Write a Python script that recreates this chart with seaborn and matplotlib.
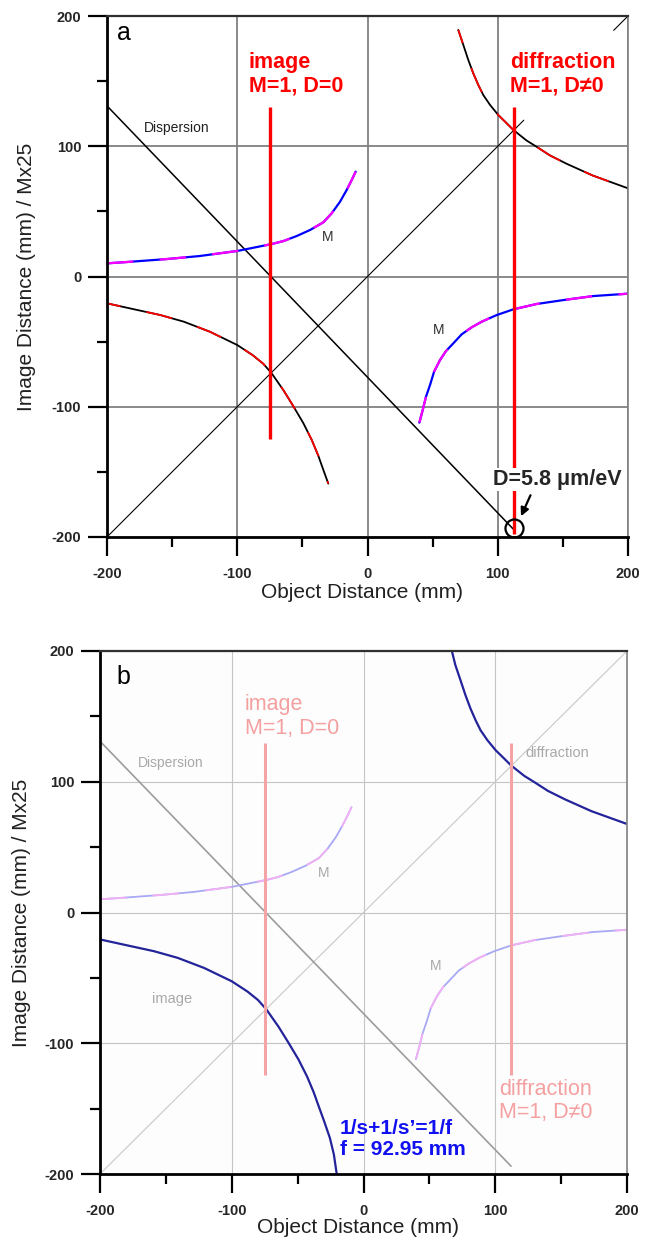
import numpy as np
import pandas as pd
import seaborn as sns
import matplotlib.pyplot as plt
from matplotlib.ticker import MultipleLocator

# values (mm)
m_left_x = [-200, -185, -154, -129, -100, -73.6, -64.6, -54.3, -44.1, -33.9, -27.5, -21.1, -16, -12.1, -9.1]
m_left_y = [10.1, 11.1, 13.4, 15.7, 19.6, 24.9, 27.2, 31.1, 35.7, 41.6, 48.5, 57.4, 66.4, 74.1, 80.5]
m_right_x = [39.8, 42.4, 44.9, 48, 51.1, 55.7, 60.3, 65.9, 72.3, 80, 87.7, 93.5, 99.2, 112, 129.9, 150.4, 173.4, 200]
m_right_y = [-112.2, -102.5, -92.3, -83.3, -73.1, -64.1, -57.2, -51.3, -44.4, -39.0, -34.7, -32.1,
             -29.6, -25.2, -21.1, -18.1, -15.0, -13.2]
img_x = [-200, -180, -159, -141, -121, -100, -88, -80, -73.6, -64.6, -57, -49.3, -42.8, -37.8, -33.9, -30.1]
img_y = [-20.6, -25.0, -29.6, -34.7, -42.4, -52.6, -60.5, -67.0, -74.3, -87.2, -99.5, -112.5,
         -125.5, -137.5, -148.5, -159.0]
img_ext_x = [-25.5, -22.5, -20.4]          # panel b continues the curve to the axis
img_ext_y = [-172.5, -185.0, -199.5]
diff_x = [69.7, 73.6, 77.4, 81.2, 85.1, 88.9, 94.1, 100.4, 106.9, 112, 122, 130, 140, 153, 173, 200]
diff_y = [189.3, 177.7, 166.2, 156.0, 147.0, 139.3, 131.7, 124.0, 117.6, 112.5, 104.5, 99.5,
          93.0, 86.5, 77.5, 67.7]
diff_pre_x = [67.2]
diff_pre_y = [199.5]
disp_x = [-200, 112]
disp_y = [131, -194]
diag_x = [-200, 120]
diag2_x = [189, 200]
diag_full_x = [-200, 200]
image_pos = -74.5
diffr_pos = 112.3
line_top = 130
line_bot_b = -124.5
diffr_bot_a = -198
circle_pt = (112.5, -193)

sns.set_theme(style="white")
plt.rcParams['font.family'] = ['Liberation Sans', 'DejaVu Sans']
plt.rcParams['axes.unicode_minus'] = False
plt.rcParams['lines.scale_dashes'] = False
plt.rcParams['lines.solid_joinstyle'] = 'round'

fig = plt.figure(figsize=(6.49, 12.42), dpi=100)
ax_a = fig.add_axes([107/649, 1-537/1242, 521/649, 521/1242])
ax_b = fig.add_axes([100/649, 1-1174/1242, 527/649, 523/1242])

seg = (0, (19, 19))


def frame(ax, gridcol, gridlw, ylab_x, xlab_y):
    ax.set_xlim(-200, 200)
    ax.set_ylim(-200, 200)
    ax.xaxis.set_major_locator(MultipleLocator(100))
    ax.xaxis.set_minor_locator(MultipleLocator(50))
    ax.yaxis.set_major_locator(MultipleLocator(100))
    ax.yaxis.set_minor_locator(MultipleLocator(50))
    ax.tick_params(which='major', direction='out', length=13.5, width=1.6,
                   color='black', left=True, bottom=True)
    ax.tick_params(which='minor', direction='out', length=7.5, width=1.6,
                   color='black', left=True, bottom=True)
    ax.tick_params(axis='x', which='major', pad=8)
    ax.tick_params(axis='y', which='major', pad=5)
    for lab in ax.get_xticklabels() + ax.get_yticklabels():
        lab.set_fontweight('bold')
        lab.set_fontsize(10.5)
    ax.grid(True, which='major', color=gridcol, lw=gridlw, zorder=0)
    ax.set_axisbelow(True)
    ax.spines['left'].set_color('black')
    ax.spines['left'].set_linewidth(2)
    ax.spines['bottom'].set_color('black')
    ax.spines['bottom'].set_linewidth(2)
    ax.spines['top'].set_color('#303030')
    ax.spines['top'].set_linewidth(1.6)
    ax.spines['right'].set_color('#808080')
    ax.spines['right'].set_linewidth(1.2)
    ax.set_xlabel('Object Distance (mm)', fontsize=15, color='#202020')
    ax.set_ylabel('Image Distance (mm) / Mx25', fontsize=15, color='#202020')
    ax.xaxis.set_label_coords(0.49, xlab_y)
    ax.yaxis.set_label_coords(ylab_x, 0.5)


# ---------------- panel a ----------------
ax = ax_a
frame(ax, '#808080', 1.3, -0.136, -0.088)
ax.yaxis.get_gridlines()[1].set_color('#d4d4d4')

sns.lineplot(x=diag_x, y=diag_x, ax=ax, color='black', lw=0.8, sort=False, estimator=None)
sns.lineplot(x=diag2_x, y=diag2_x, ax=ax, color='black', lw=0.8, sort=False, estimator=None)
sns.lineplot(x=disp_x, y=disp_y, ax=ax, color='black', lw=1.1, sort=False, estimator=None)

for xs, ys in [(m_left_x, m_left_y), (m_right_x, m_right_y)]:
    sns.lineplot(x=xs, y=ys, ax=ax, color='#0000ff', lw=1.6, sort=False, estimator=None)
    sns.lineplot(x=xs, y=ys, ax=ax, color='#ff00ff', lw=1.6, ls=seg, sort=False, estimator=None)
for xs, ys in [(img_x, img_y), (diff_x, diff_y)]:
    sns.lineplot(x=xs, y=ys, ax=ax, color='black', lw=1.3, sort=False, estimator=None)
    sns.lineplot(x=xs, y=ys, ax=ax, color='#ff0000', lw=1.3, ls=(9, (19, 19)), sort=False, estimator=None)

ax.vlines(image_pos, -124.5, line_top, color='#ff0000', lw=2.4, zorder=3)
ax.vlines(diffr_pos, diffr_bot_a, line_top, color='#ff0000', lw=2.4, zorder=3)

ax.plot(*circle_pt, marker='o', ms=13, mfc='none', mec='black', mew=1.6, zorder=4)
ax.annotate('', xy=(117, -186), xytext=(126, -166),
            arrowprops=dict(arrowstyle='-|>', color='black', lw=1.6, mutation_scale=12), zorder=5)
ax.text(146, -156, 'D=5.8 μm/eV', fontsize=15.5, fontweight='bold', ha='center', va='center',
        bbox=dict(facecolor='white', edgecolor='none', pad=1), zorder=4)

ax.text(-91, 172, 'image\nM=1, D=0', color='#ff0000', fontsize=15.5, fontweight='bold',
        ha='left', va='top', linespacing=1.15)
ax.text(109.4, 172, 'diffraction\nM=1, D≠0', color='#ff0000', fontsize=15.5, fontweight='bold',
        ha='left', va='top', linespacing=1.15,
        family=['Liberation Sans', 'DejaVu Sans'])
ax.text(-172, 114, 'Dispersion', fontsize=10, ha='left', va='center', color='#202020')
ax.text(-30.5, 30, 'M', fontsize=10, ha='center', va='center', color='#303030')
ax.text(54.5, -41, 'M', fontsize=10, ha='center', va='center', color='#303030')
ax.text(-187, 187, 'a', fontsize=18, ha='center', va='center', color='black')

# ---------------- panel b ----------------
ax = ax_b
ax.set_facecolor('#fdfdfd')
frame(ax, '#c4c4c4', 0.8, -0.131, -0.084)

sns.lineplot(x=diag_full_x, y=diag_full_x, ax=ax, color='#c8c8c8', lw=0.8, sort=False, estimator=None)
sns.lineplot(x=disp_x, y=disp_y, ax=ax, color='#9c9c9c', lw=1.2, sort=False, estimator=None)

for xs, ys in [(m_left_x, m_left_y), (m_right_x, m_right_y)]:
    sns.lineplot(x=xs, y=ys, ax=ax, color='#a8a8f4', lw=1.3, sort=False, estimator=None)
    sns.lineplot(x=xs, y=ys, ax=ax, color='#f4b0f4', lw=1.3, ls=seg, sort=False, estimator=None)

ax.vlines([image_pos, diffr_pos], line_bot_b, line_top, color='#f4a4a4', lw=2.2, zorder=3)

sns.lineplot(x=img_x + img_ext_x, y=img_y + img_ext_y, ax=ax, color='#23239a', lw=1.6,
             sort=False, estimator=None)
sns.lineplot(x=diff_pre_x + diff_x, y=diff_pre_y + diff_y, ax=ax, color='#23239a', lw=1.6,
             sort=False, estimator=None)

ax.text(-90, 167, 'image\nM=1, D=0', color='#f4a0a0', fontsize=15.5,
        ha='left', va='top', linespacing=1.15)
ax.text(102.6, -127, 'diffraction\nM=1, D≠0', color='#f4a0a0', fontsize=15.5,
        ha='left', va='top', linespacing=1.15, family=['Liberation Sans', 'DejaVu Sans'])
ax.text(-171.5, 114, 'Dispersion', fontsize=10, ha='left', va='center', color='#a8a8a8')
ax.text(123, 122, 'diffraction', fontsize=10.5, ha='left', va='center', color='#a8a8a8')
ax.text(-145.5, -66, 'image', fontsize=10.5, ha='center', va='center', color='#a8a8a8')
ax.text(-30.5, 30, 'M', fontsize=10, ha='center', va='center', color='#a8a8a8')
ax.text(54.5, -41, 'M', fontsize=10, ha='center', va='center', color='#a8a8a8')
ax.text(-18, -158, '1/s+1/s’=1/f\nf = 92.95 mm', color='#1010f0', fontsize=15,
        fontweight='bold', ha='left', va='top', linespacing=1.1)
ax.text(-182, 180, 'b', fontsize=18, ha='center', va='center', color='black')

fig.savefig('out.png', dpi=100)
